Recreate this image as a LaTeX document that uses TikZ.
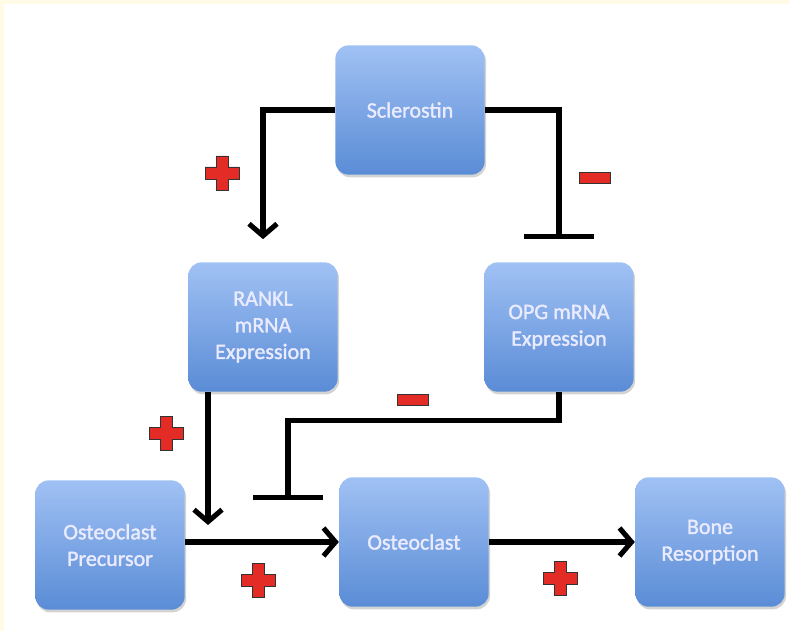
\documentclass[tikz,border=0pt]{standalone}
\usepackage{fontspec}
\setmainfont{Carlito}
\newfontfamily\boxfont[RawFeature={embolden=1.6}]{Carlito}
\usetikzlibrary{arrows.meta,shadows,calc}

\definecolor{boxtop}{RGB}{160,193,244}
\definecolor{boxbot}{RGB}{90,140,214}
\definecolor{signred}{RGB}{228,44,38}
\definecolor{framey}{RGB}{255,251,230}

\tikzset{every picture/.style={line width=0.75pt}}
\tikzset{
  cellbox/.style={rounded corners=10pt, minimum width=112pt, minimum height=97pt,
    top color=boxtop, bottom color=boxbot, draw=none, text=white!92!blue,
    align=center, font=\boxfont\fontsize{16.5}{20}\selectfont,
    drop shadow={opacity=0.35, shadow xshift=1pt, shadow yshift=-2pt}},
  act/.style={line width=3.8pt, -{Straight Barb[length=9pt,width=21pt,line width=3.8pt]}},
  inh/.style={line width=3.8pt, -{Bar[width=52pt,line width=3.8pt]}},
  sign/.style={fill=signred, draw=black!80, line width=0.6pt}
}
\newcommand\plussign[2]{\draw[sign, shift={(#1,#2)}] (-6,-17) -- (6,-17) -- (6,-6) -- (17,-6) -- (17,6) -- (6,6) -- (6,17) -- (-6,17) -- (-6,6) -- (-17,6) -- (-17,-6) -- (-6,-6) -- cycle ;}
\newcommand\minussign[2]{\draw[sign, shift={(#1,#2)}] (-15.5,-5.5) rectangle (15.5,5.5) ;}

\begin{document}
\begin{tikzpicture}[x=0.75pt,y=0.75pt,yscale=-1,xscale=1]
	\useasboundingbox (0,0) rectangle (789,631);
	%Frame
	\fill [framey] (0,0) rectangle (789,4);
	\fill [framey] (0,0) rectangle (4,631);

	%Boxes
	\node [cellbox] (scl) at (410,110) {Sclerostin};
	\node [cellbox] (rankl) at (263,327) {RANKL\\mRNA\\Expression};
	\node [cellbox] (opg) at (559,327) {OPG mRNA\\Expression};
	\node [cellbox] (prec) at (110,545) {Osteoclast\\Precursor};
	\node [cellbox] (oc) at (414,542) {Osteoclast};
	\node [cellbox] (bone) at (710,542) {Bone\\Resorption};

	%Connectors
	\coordinate (ranktip) at (208,525);
	\coordinate (opgbar) at (288,500);
	\draw [act, shorten >=17pt] (scl.west) -| (rankl.north) ;
	\draw [inh, shorten >=17pt] (scl.east) -| (opg.north) ;
	\draw [act] (ranktip |- rankl.south) -- (ranktip) ;
	\draw [inh] (opg.south) -- ++(0,28) -| (opgbar) ;
	\draw [act] (prec.east |- oc.west) -- (oc.west) ;
	\draw [act] (oc.east) -- (bone.west) ;

	%Signs
	\plussign{222}{173}
	\plussign{166}{433}
	\plussign{258}{580}
	\plussign{560}{578}
	\minussign{594.5}{177.5}
	\minussign{413}{400}

\end{tikzpicture}
\end{document}
